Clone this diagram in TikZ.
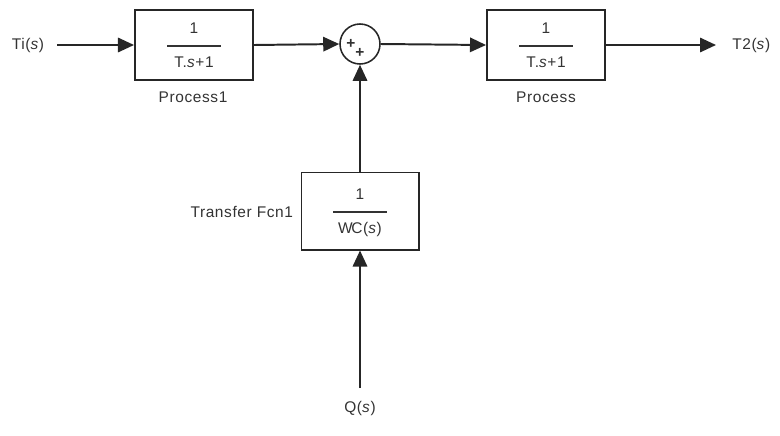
\documentclass[tikz,border=0pt]{standalone}
\usepackage{fontspec}
\setmainfont[LetterSpace=4]{Liberation Sans}
\usetikzlibrary{arrows.meta}

\newcommand*{\blockfrac}[2]{%
  \setlength{\arrayrulewidth}{1.3pt}%
  \raisebox{-1.5pt}[\height][\depth]{\begin{tabular}{@{}c@{}}\makebox[1.33cm]{#1}\\[4pt]\hline\rule{0pt}{15pt}#2\end{tabular}}}

\begin{document}
\begin{tikzpicture}
[
	x=0.025cm,y=-0.025cm,
	every node/.style={font=\fontsize{11}{13}\selectfont,text=black!80},
	block/.style={draw=black!85,line width=1.4pt,minimum width=2.95cm,minimum height=1.75cm,inner sep=0pt},
	sumpt/.style={circle,draw=black!85,line width=1.1pt,minimum size=1cm,inner sep=0pt},
	sig/.style={line width=1.4pt,draw=black!85,-{Triangle[length=0.4cm,width=0.36cm]}},
	plus/.style={font=\fontsize{11}{12}\selectfont\bfseries,inner sep=0pt}
]
	\useasboundingbox (0,0) rectangle (780,435);

	% blocks
	\node[block] at (194,45) (proc1) {\blockfrac{1}{T.\textit{s}+1}};
	\node[sumpt] at (360,44) (sum) {};
	\node[block] at (546,45) (proc) {\blockfrac{1}{T.\textit{s}+1}};
	\node[block,minimum height=1.925cm,minimum width=2.925cm] at (360,211) (fcn) {\blockfrac{1}{W\kern-1ptC(\textit{s})}};

	\node[plus] at (351,44) (plusa) {+};
	\node[plus] at (360,53) (plusb) {+};

	% labels
	\node at (28,45) (ti) {Ti(\textit{s})};
	\node at (193,97) (lab1) {Process1};
	\node at (546,97) (lab2) {Process};
	\node[anchor=east] at (298,212) (lab3) {Transfer Fcn1};
	\node[anchor=west,inner sep=0pt] at (732,45) (t2) {T2(\textit{s})};
	\node at (360,408) (q) {Q(\textit{s})};

	\coordinate (tiend) at (57,45);
	\coordinate (t2end) at (716,45);
	\coordinate (qend) at (360,388);

	% signals
	\draw[sig] (tiend) -- (proc1.west);
	\draw[sig] (proc1.east) -- (sum.west);
	\draw[sig] (sum.east) -- (proc.west);
	\draw[sig] (proc.east) -- (t2end);
	\draw[sig] (fcn.north) -- (sum.south);
	\draw[sig] (qend) -- (fcn.south);

\end{tikzpicture}
\end{document}
